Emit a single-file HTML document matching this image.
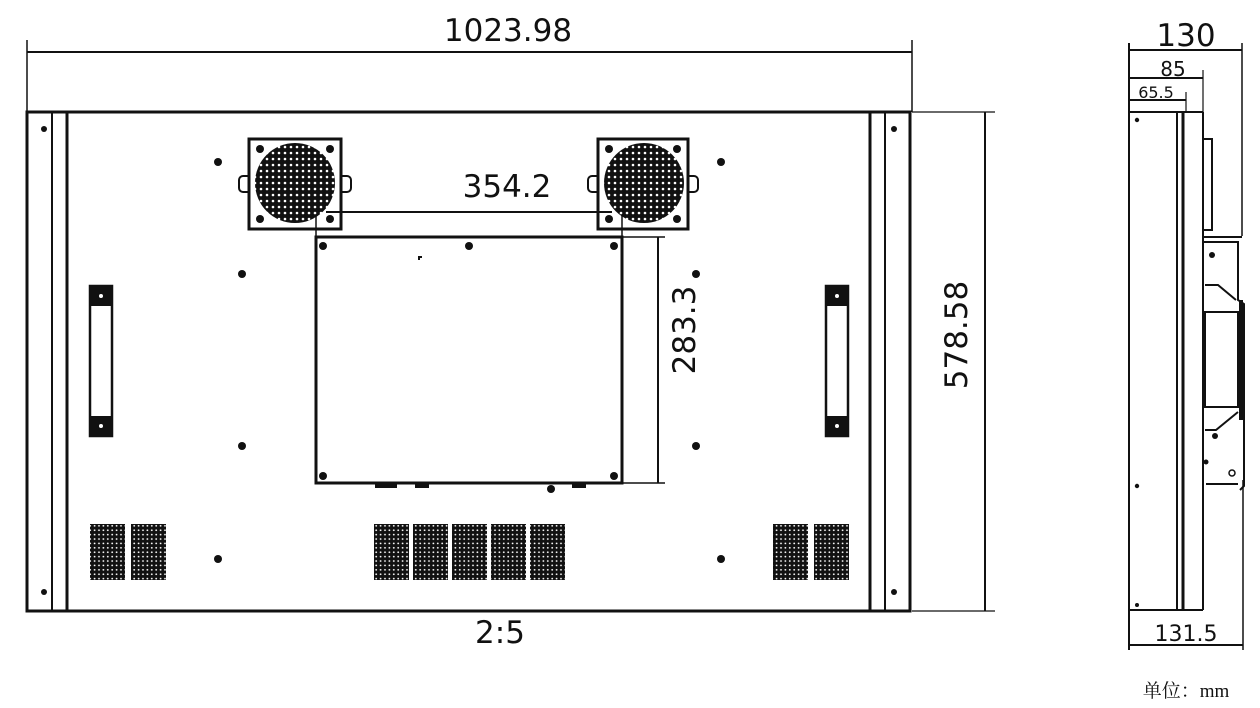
<!DOCTYPE html>
<html><head><meta charset="utf-8"><style>
html,body{margin:0;padding:0;background:#fff;width:1260px;height:708px;overflow:hidden}
svg{display:block}
text{font-family:"DejaVu Sans","Liberation Sans",sans-serif;fill:#111}
</style></head><body>
<svg width="1260" height="708" viewBox="0 0 1260 708" xmlns="http://www.w3.org/2000/svg">
<defs>
<pattern id="vent" width="4.4" height="4.4" patternUnits="userSpaceOnUse">
<rect width="4.4" height="4.4" fill="#111"/>
<circle cx="2.2" cy="2.2" r="0.9" fill="#fff"/>
</pattern>
<pattern id="fan" width="6" height="6" patternUnits="userSpaceOnUse">
<rect width="6" height="6" fill="#111"/>
<circle cx="3" cy="3" r="1.3" fill="#fff"/>
</pattern>
</defs>
<g stroke="#111" fill="none">
<line x1="27" y1="40" x2="27" y2="112" stroke-width="1.5"/>
<line x1="912" y1="40" x2="912" y2="112" stroke-width="1.5"/>
<line x1="27" y1="52" x2="912" y2="52" stroke-width="2"/>
<rect x="27" y="112" width="883" height="499" stroke-width="3"/>
<line x1="52" y1="112" x2="52" y2="611" stroke-width="2"/>
<line x1="67" y1="112" x2="67" y2="611" stroke-width="3"/>
<line x1="870" y1="112" x2="870" y2="611" stroke-width="3"/>
<line x1="885" y1="112" x2="885" y2="611" stroke-width="2"/>
<line x1="912" y1="112" x2="995" y2="112" stroke-width="1.2"/>
<line x1="912" y1="611" x2="995" y2="611" stroke-width="1.2"/>
<line x1="985" y1="112" x2="985" y2="611" stroke-width="2"/>
<rect x="249" y="139" width="92" height="90" stroke-width="3"/>
<rect x="598" y="139" width="90" height="90" stroke-width="3"/>
<path d="M249 176 h-6 a4 4 0 0 0 -4 4 v8 a4 4 0 0 0 4 4 h6 M341 176 h6 a4 4 0 0 1 4 4 v8 a4 4 0 0 1 -4 4 h-6" stroke-width="2"/>
<path d="M598 176 h-6 a4 4 0 0 0 -4 4 v8 a4 4 0 0 0 4 4 h6 M688 176 h6 a4 4 0 0 1 4 4 v8 a4 4 0 0 1 -4 4 h-6" stroke-width="2"/>
<line x1="326" y1="212" x2="612" y2="212" stroke-width="2"/>
<line x1="316" y1="200" x2="316" y2="237" stroke-width="1.5"/>
<line x1="622" y1="200" x2="622" y2="237" stroke-width="1.5"/>
<rect x="316" y="237" width="306" height="246" stroke-width="3"/>
<line x1="622" y1="237" x2="665" y2="237" stroke-width="1.5"/>
<line x1="622" y1="483" x2="665" y2="483" stroke-width="1.5"/>
<line x1="658" y1="237" x2="658" y2="483" stroke-width="2"/>
<rect x="90" y="286" width="22" height="150" stroke-width="2.5"/>
<rect x="826" y="286" width="22" height="150" stroke-width="2.5"/>
</g>
<g fill="#111">
<rect x="89" y="286" width="24" height="20"/><rect x="89" y="416" width="24" height="20"/>
<rect x="825" y="286" width="24" height="20"/><rect x="825" y="416" width="24" height="20"/>
<circle cx="101" cy="296" r="2" fill="#fff"/><circle cx="101" cy="426" r="2" fill="#fff"/>
<circle cx="837" cy="296" r="2" fill="#fff"/><circle cx="837" cy="426" r="2" fill="#fff"/>
<circle cx="295" cy="183" r="40" fill="url(#fan)"/>
<circle cx="644" cy="183" r="40" fill="url(#fan)"/>
<circle cx="260" cy="149" r="4"/><circle cx="330" cy="149" r="4"/><circle cx="260" cy="219" r="4"/><circle cx="330" cy="219" r="4"/>
<circle cx="609" cy="149" r="4"/><circle cx="677" cy="149" r="4"/><circle cx="609" cy="219" r="4"/><circle cx="677" cy="219" r="4"/>
<circle cx="323" cy="246" r="4"/><circle cx="469" cy="246" r="4"/><circle cx="614" cy="246" r="4"/>
<circle cx="323" cy="476" r="4"/><circle cx="614" cy="476" r="4"/><circle cx="551" cy="489" r="4"/>
<rect x="375" y="483" width="22" height="5"/><rect x="415" y="483" width="14" height="5"/><rect x="572" y="483" width="14" height="5"/>
<rect x="418" y="256" width="4" height="2"/><rect x="418" y="256" width="2" height="4"/>
<circle cx="218" cy="162" r="4"/><circle cx="721" cy="162" r="4"/>
<circle cx="242" cy="274" r="4"/><circle cx="696" cy="274" r="4"/>
<circle cx="242" cy="446" r="4"/><circle cx="696" cy="446" r="4"/>
<circle cx="218" cy="559" r="4"/><circle cx="721" cy="559" r="4"/>
<circle cx="44" cy="129" r="3"/><circle cx="44" cy="592" r="3"/>
<circle cx="894" cy="129" r="3"/><circle cx="894" cy="592" r="3"/>
</g>
<g fill="url(#vent)">
<rect x="90" y="524" width="35" height="56"/><rect x="131" y="524" width="35" height="56"/>
<rect x="374" y="524" width="35" height="56"/><rect x="413" y="524" width="35" height="56"/><rect x="452" y="524" width="35" height="56"/><rect x="491" y="524" width="35" height="56"/><rect x="530" y="524" width="35" height="56"/>
<rect x="773" y="524" width="35" height="56"/><rect x="814" y="524" width="35" height="56"/>
</g>
<text x="508" y="41" font-size="31" text-anchor="middle">1023.98</text>
<text x="507" y="197" font-size="31" text-anchor="middle">354.2</text>
<text x="500" y="643" font-size="31" text-anchor="middle">2:5</text>
<text transform="translate(695,330) rotate(-90)" font-size="31" text-anchor="middle">283.3</text>
<text transform="translate(967,335) rotate(-90)" font-size="31" text-anchor="middle">578.58</text>

<g stroke="#111" fill="none">
<line x1="1129" y1="43" x2="1129" y2="650" stroke-width="2"/>
<line x1="1242" y1="43" x2="1242" y2="236" stroke-width="1.5"/>
<line x1="1129" y1="50" x2="1242" y2="50" stroke-width="2"/>
<line x1="1203" y1="70" x2="1203" y2="112" stroke-width="1.2"/>
<line x1="1129" y1="78" x2="1203" y2="78" stroke-width="2"/>
<line x1="1186" y1="92" x2="1186" y2="112" stroke-width="1.2"/>
<line x1="1129" y1="100" x2="1186" y2="100" stroke-width="2"/>
<line x1="1129" y1="112" x2="1203" y2="112" stroke-width="2"/>
<line x1="1177" y1="112" x2="1177" y2="610" stroke-width="2"/>
<line x1="1183" y1="112" x2="1183" y2="610" stroke-width="3"/>
<line x1="1203" y1="112" x2="1203" y2="610" stroke-width="2"/>
<line x1="1129" y1="610" x2="1203" y2="610" stroke-width="2"/>
<rect x="1203" y="139" width="9" height="91" stroke-width="2"/>
<line x1="1203" y1="237" x2="1242" y2="237" stroke-width="2"/>
<path d="M1203 242 H1238 V300 L1244 304 V486 L1240 490" stroke-width="2"/>
<path d="M1205 285 H1218 L1236 300" stroke-width="2"/>
<rect x="1205" y="312" width="33" height="95" stroke-width="2"/>
<path d="M1205 430 H1216 L1238 412" stroke-width="2"/>
<path d="M1206 484 H1238" stroke-width="2"/>
<circle cx="1232" cy="473" r="3" stroke-width="1.5"/>
<line x1="1243" y1="480" x2="1243" y2="650" stroke-width="1.5"/>
<line x1="1129" y1="645" x2="1243" y2="645" stroke-width="2"/>
</g>
<g fill="#111">
<circle cx="1137" cy="120" r="2.2"/><circle cx="1137" cy="486" r="2.2"/><circle cx="1137" cy="605" r="2"/>
<circle cx="1212" cy="255" r="3"/><circle cx="1215" cy="436" r="3"/><circle cx="1206" cy="462" r="2.5"/>
<rect x="1239" y="300" width="4" height="120"/>
</g>
<text x="1186" y="46" font-size="31" text-anchor="middle">130</text>
<text x="1173" y="76" font-size="20" text-anchor="middle">85</text>
<text x="1156" y="98" font-size="16" text-anchor="middle">65.5</text>
<text x="1186" y="641" font-size="22" text-anchor="middle">131.5</text>
<text x="1186" y="697" font-size="19" text-anchor="middle" style="font-family:'Liberation Serif','Noto Serif CJK SC',serif">单位：mm</text>
</svg>
</body></html>
